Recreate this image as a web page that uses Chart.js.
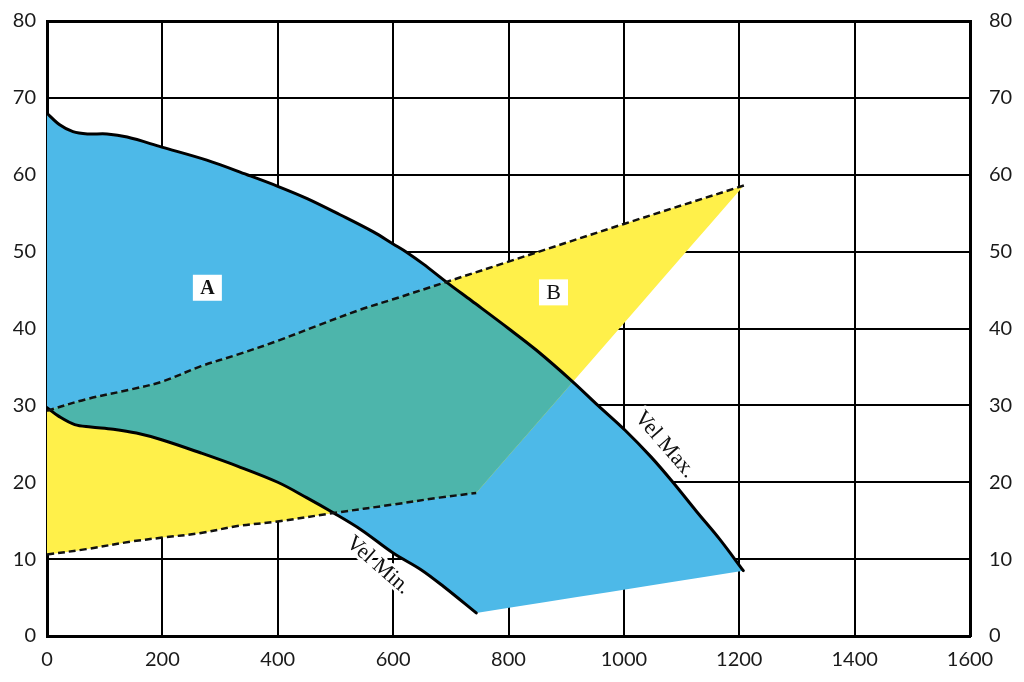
<!DOCTYPE html>
<html>
<head>
<meta charset="utf-8">
<script src="https://cdn.jsdelivr.net/npm/chart.js@4.4.1/dist/chart.umd.min.js"></script>
<style>
  html, body { margin: 0; padding: 0; background: #ffffff; }
  #wrap { width: 1024px; height: 682px; }
</style>
</head>
<body>
<div id="wrap"><canvas id="c" width="1024" height="682"></canvas></div>
<script>
// ---- data ----
const xTicks = [0, 200, 400, 600, 800, 1000, 1200, 1400, 1600];
const yTicks = [0, 10, 20, 30, 40, 50, 60, 70, 80];

// "Vel Max." curve (upper edge of zone A)
const velMaxX = [0, 22, 45, 70, 104, 139, 199, 277, 347, 400, 451, 508, 565, 600, 624, 652, 693, 736, 800, 848, 911, 955, 1003, 1047, 1085, 1126, 1166, 1207];
const velMaxY = [68.0, 66.5, 65.6, 65.3, 65.3, 64.9, 63.6, 61.9, 60.0, 58.5, 56.9, 54.8, 52.6, 51.0, 49.9, 48.4, 46.0, 43.6, 40.0, 37.2, 33.1, 30.0, 26.7, 23.3, 20.0, 16.2, 12.6, 8.5];

// "Vel Min." curve (lower edge of zone A)
const velMinX = [0, 20, 48, 76, 115, 155, 200, 267, 330, 400, 450, 497, 545, 600, 649, 688, 744];
const velMinY = [29.7, 28.6, 27.5, 27.2, 26.9, 26.4, 25.5, 23.8, 22.1, 20.0, 18.0, 16.0, 13.8, 10.8, 8.6, 6.4, 3.0];

// Zone B dashed upper boundary
const bTopX = [0, 68, 147, 200, 267, 330, 400, 466, 545, 600, 800, 1000, 1208];
const bTopY = [29.3, 30.8, 32.1, 33.1, 35.1, 36.6, 38.4, 40.3, 42.5, 43.8, 48.7, 53.6, 58.6];

// Zone B dashed lower boundary
const bBotX = [0, 68, 147, 200, 267, 330, 400, 497, 600, 680, 744];
const bBotY = [10.6, 11.3, 12.3, 12.8, 13.4, 14.3, 14.9, 16.0, 17.1, 18.0, 18.6];

// zone labels
const zoneLabels = [
  { text: 'A', x: 278, y: 45.3, bold: true },
  { text: 'B', x: 878, y: 44.7, bold: false }
];
const curveLabels = [
  { text: 'Vel Max.', x: 1071, y: 24.9, angle: 49 },
  { text: 'Vel Min.', x: 574, y: 9.2, angle: 41 }
];

// ---- helpers ----
const TENSION = 0.35;
const pts = (xs, ys) => xs.map((x, i) => ({ x: x, y: ys[i] }));
// corner points are repeated so the spline keeps a sharp corner there
const withCorners = (a, b) => {
  const last = a[a.length - 1], first = b[0];
  return a.concat([{ x: last.x, y: last.y }], [first], [{ x: first.x, y: first.y }], b.slice(1));
};
const polyA = withCorners(pts(velMaxX, velMaxY), pts(velMinX, velMinY).reverse());
const polyB = withCorners(pts(bTopX, bTopY), pts(bBotX, bBotY).reverse());

const BLUE = '#4db9e8';
const YELLOW = '#fff04a';
const TEAL = '#4db5ab';

const overlapPlugin = {
  id: 'overlap',
  afterDatasetDraw(chart, args) {
    if (args.index !== 1) return;
    const lineA = chart.getDatasetMeta(0).dataset;
    const lineB = chart.getDatasetMeta(1).dataset;
    const ctx = chart.ctx;
    const area = chart.chartArea;
    ctx.save();
    ctx.beginPath();
    ctx.rect(area.left, area.top, area.right - area.left, area.bottom - area.top);
    ctx.clip();
    ctx.beginPath();
    lineA.path(ctx);
    ctx.closePath();
    ctx.clip();
    ctx.beginPath();
    lineB.path(ctx);
    ctx.closePath();
    ctx.fillStyle = TEAL;
    ctx.fill();
    ctx.restore();
  }
};

const labelPlugin = {
  id: 'labels',
  afterDraw(chart) {
    const ctx = chart.ctx;
    const xs = chart.scales.x, ys = chart.scales.y;
    ctx.save();
    zoneLabels.forEach(l => {
      const px = xs.getPixelForValue(l.x), py = ys.getPixelForValue(l.y);
      ctx.fillStyle = '#ffffff';
      ctx.fillRect(px - 14.5, py - 13, 29, 26);
      ctx.font = (l.bold ? 'bold 20px' : '22px') + ' "Liberation Serif"';
      ctx.fillStyle = '#111';
      ctx.textAlign = 'center';
      ctx.textBaseline = 'middle';
      ctx.fillText(l.text, px, py + 1);
    });
    curveLabels.forEach(l => {
      const px = xs.getPixelForValue(l.x), py = ys.getPixelForValue(l.y);
      ctx.save();
      ctx.translate(px, py);
      ctx.rotate(l.angle * Math.PI / 180);
      ctx.font = '22px "Liberation Serif"';
      ctx.textAlign = 'center';
      ctx.textBaseline = 'middle';
      ctx.lineJoin = 'round';
      ctx.strokeStyle = '#ffffff';
      ctx.lineWidth = 6;
      ctx.strokeText(l.text, 0, 0);
      ctx.fillStyle = '#111';
      ctx.fillText(l.text, 0, 0);
      ctx.restore();
    });
    ctx.restore();
  }
};

const tickFont = { family: 'Lato', size: 20 };
const plainTick = v => String(v);
const fitY = w => s => { s.width = w; s.paddingTop = 0; s.paddingBottom = 0; };
const fitX = h => s => { s.height = h; s.paddingLeft = 0; s.paddingRight = 0; };

new Chart(document.getElementById('c'), {
  type: 'line',
  data: {
    datasets: [
      { data: polyA, order: 5, fill: 'shape', backgroundColor: BLUE, borderWidth: 0, pointRadius: 0, tension: TENSION },
      { data: polyB, order: 4, fill: 'shape', backgroundColor: YELLOW, borderWidth: 0, pointRadius: 0, tension: TENSION },
      { data: pts(bTopX, bTopY), order: 1, fill: false, borderColor: '#111', borderWidth: 2.5, borderDash: [7, 4], pointRadius: 0, tension: TENSION },
      { data: pts(bBotX, bBotY), order: 1, fill: false, borderColor: '#111', borderWidth: 2.5, borderDash: [7, 4], pointRadius: 0, tension: TENSION },
      { data: pts(velMaxX, velMaxY), order: 1, fill: false, borderColor: '#000', borderWidth: 3, pointRadius: 0, tension: TENSION, borderCapStyle: 'round', borderJoinStyle: 'round' },
      { data: pts(velMinX, velMinY), order: 1, fill: false, borderColor: '#000', borderWidth: 3, pointRadius: 0, tension: TENSION, borderCapStyle: 'round', borderJoinStyle: 'round' }
    ]
  },
  options: {
    responsive: false,
    animation: false,
    events: [],
    layout: { padding: { top: 21, left: 0, right: 0, bottom: 0 } },
    plugins: { legend: { display: false }, tooltip: { enabled: false } },
    scales: {
      x: {
        type: 'linear', position: 'bottom', min: 0, max: 1600, z: 1,
        afterBuildTicks: s => { s.ticks = xTicks.map(v => ({ value: v })); },
        afterFit: fitX(46),
        ticks: { font: tickFont, color: '#1a1a1a', padding: 12, maxRotation: 0, autoSkip: false, callback: plainTick },
        grid: { color: '#000', lineWidth: 2, drawTicks: false },
        border: { color: '#000', width: 3 }
      },
      xTop: {
        type: 'linear', position: 'top', min: 0, max: 1600, z: 1,
        afterFit: fitX(0),
        ticks: { display: false },
        grid: { display: false, drawTicks: false },
        border: { color: '#000', width: 3 }
      },
      y: {
        type: 'linear', position: 'left', min: 0, max: 80, z: 1,
        afterBuildTicks: s => { s.ticks = yTicks.map(v => ({ value: v })); },
        afterFit: fitY(47),
        ticks: { font: tickFont, color: '#1a1a1a', padding: 11, callback: plainTick },
        grid: { color: '#000', lineWidth: 2, drawTicks: false },
        border: { color: '#000', width: 3 }
      },
      y2: {
        type: 'linear', position: 'right', min: 0, max: 80, z: 1,
        afterBuildTicks: s => { s.ticks = yTicks.map(v => ({ value: v })); },
        afterFit: fitY(54),
        ticks: { font: tickFont, color: '#1a1a1a', padding: 19, callback: plainTick },
        grid: { display: false, drawTicks: false },
        border: { color: '#000', width: 3 }
      }
    }
  },
  plugins: [overlapPlugin, labelPlugin]
});
</script>
</body>
</html>
